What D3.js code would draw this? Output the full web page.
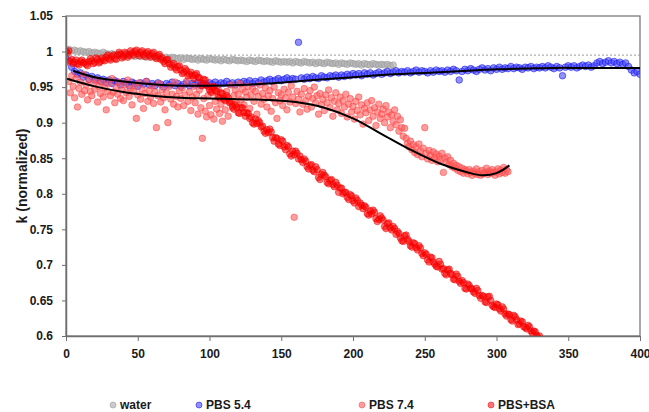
<!DOCTYPE html>
<html>
<head>
<meta charset="utf-8">
<script src="https://cdn.jsdelivr.net/npm/d3@7"></script>
<style>
  body { margin: 0; background: #fff; }
  text { font-family: "Liberation Sans", Arial, sans-serif; }
</style>
</head>
<body>
<svg id="chart"></svg>
<script>
// sampled series: time starts at 0, step given per series
const waterStep = 2;
const water = [
  1.002, 1.003, 1.001, 1.002, 1.000, 1.001,
  1.000, 0.999, 1.000, 0.998, 0.999,
  0.998, 0.997, 0.999, 0.997, 0.996,
  0.997, 0.996, 0.995, 0.997, 0.995,
  0.994, 0.996, 0.994, 0.993, 0.995,
  0.993, 0.994, 0.992, 0.993, 0.994,
  0.992, 0.991, 0.993, 0.991, 0.992,
  0.990, 0.992, 0.991, 0.990, 0.991,
  0.989, 0.991, 0.990, 0.989, 0.990,
  0.988, 0.990, 0.989, 0.988, 0.990,
  0.989, 0.988, 0.989, 0.987, 0.989,
  0.988, 0.987, 0.989, 0.988, 0.987,
  0.988, 0.987, 0.986, 0.988, 0.987,
  0.986, 0.988, 0.987, 0.986, 0.987,
  0.986, 0.985, 0.987, 0.986, 0.985,
  0.986, 0.985, 0.986, 0.984, 0.986,
  0.985, 0.984, 0.986, 0.985, 0.984,
  0.985, 0.983, 0.985, 0.984, 0.983,
  0.985, 0.984, 0.983, 0.984, 0.982,
  0.984, 0.983, 0.982, 0.984, 0.983,
  0.982, 0.983, 0.981, 0.983, 0.982,
  0.981, 0.983, 0.982, 0.981, 0.982,
  0.981, 0.982, 0.980, 0.981
];

const pbs54Step = 2;
const pbs54 = [
  0.990, 0.986, 0.978, 0.972, 0.968, 0.970,
  0.964, 0.967, 0.961, 0.965, 0.960,
  0.963, 0.958, 0.961, 0.956, 0.960,
  0.955, 0.959, 0.957, 0.953, 0.958,
  0.956, 0.952, 0.957, 0.955, 0.951,
  0.956, 0.954, 0.958, 0.953, 0.955,
  0.952, 0.956, 0.954, 0.950, 0.955,
  0.953, 0.957, 0.952, 0.955, 0.951,
  0.954, 0.956, 0.952, 0.955, 0.953,
  0.957, 0.952, 0.955, 0.953, 0.956,
  0.954, 0.957, 0.953, 0.956, 0.955,
  0.958, 0.954, 0.956, 0.953, 0.957,
  0.955, 0.958, 0.956, 0.959, 0.955,
  0.958, 0.956, 0.960, 0.957, 0.959,
  0.961, 0.958, 0.960, 0.962, 0.959,
  0.961, 0.963, 0.960, 0.962, 0.961,
  1.013, 0.963, 0.961, 0.964, 0.962,
  0.965, 0.963, 0.962, 0.966, 0.964,
  0.963, 0.966, 0.965, 0.967, 0.964,
  0.967, 0.965, 0.968, 0.966, 0.969,
  0.967, 0.969, 0.966, 0.970, 0.968,
  0.970, 0.967, 0.969, 0.971, 0.968,
  0.970, 0.972, 0.969, 0.971, 0.973,
  0.970, 0.972, 0.971, 0.973, 0.970,
  0.972, 0.974, 0.971, 0.973, 0.972,
  0.970, 0.973, 0.971, 0.974, 0.972,
  0.973, 0.971, 0.974, 0.972, 0.975,
  0.973, 0.960, 0.972, 0.975, 0.973,
  0.976, 0.974, 0.972, 0.975, 0.977,
  0.974, 0.976, 0.973, 0.977, 0.975,
  0.978, 0.975, 0.977, 0.976, 0.979,
  0.976, 0.978, 0.977, 0.975, 0.978,
  0.977, 0.979, 0.976, 0.978, 0.977,
  0.979, 0.977, 0.980, 0.978, 0.976,
  0.979, 0.977, 0.966, 0.978, 0.980,
  0.978, 0.980, 0.977, 0.979, 0.981,
  0.979, 0.981, 0.978, 0.980, 0.984,
  0.986, 0.983, 0.985, 0.987, 0.984,
  0.986, 0.983, 0.985, 0.982, 0.984,
  0.979, 0.974, 0.970, 0.972, 0.968
];

const pbs74Step = 1;
const pbs74 = [
  1.000, 0.985, 0.958, 0.942, 0.966, 0.951, 0.935, 0.962, 0.922, 0.948,
  0.957, 0.940, 0.968, 0.945, 0.953, 0.932, 0.961, 0.944, 0.938, 0.955,
  0.947, 0.960, 0.929, 0.951, 0.941, 0.958, 0.936, 0.949, 0.918, 0.944,
  0.955, 0.938, 0.962, 0.943, 0.928, 0.950, 0.940, 0.957, 0.934, 0.946,
  0.931, 0.953, 0.942, 0.960, 0.937, 0.948, 0.925, 0.944, 0.952, 0.906,
  0.939, 0.956, 0.933, 0.947, 0.920, 0.941, 0.958, 0.930, 0.945, 0.936,
  0.952, 0.927, 0.943, 0.893, 0.938, 0.955, 0.929, 0.946, 0.935, 0.918,
  0.942, 0.900, 0.951, 0.933, 0.940, 0.926, 0.957, 0.937, 0.922, 0.945,
  0.934, 0.949, 0.924, 0.939, 0.958, 0.930, 0.943, 0.917, 0.936, 0.951,
  0.928, 0.940, 0.912, 0.946, 0.921, 0.878, 0.934, 0.916, 0.908, 0.938,
  0.924, 0.911, 0.942, 0.905, 0.930, 0.919, 0.948, 0.913, 0.926, 0.902,
  0.935, 0.918, 0.944, 0.909, 0.929, 0.953, 0.921, 0.938, 0.946, 0.927,
  0.940, 0.955, 0.932, 0.947, 0.925, 0.943, 0.936, 0.951, 0.920, 0.939,
  0.948, 0.930, 0.944, 0.912, 0.937, 0.953, 0.926, 0.941, 0.933, 0.949,
  0.922, 0.938, 0.945, 0.916, 0.934, 0.950, 0.928, 0.906, 0.942, 0.931,
  0.939, 0.924, 0.947, 0.935, 0.918, 0.943, 0.929, 0.952, 0.936, 0.767,
  0.927, 0.944, 0.933, 0.915, 0.940, 0.926, 0.948, 0.931, 0.919, 0.937,
  0.945, 0.922, 0.934, 0.950, 0.928, 0.938, 0.912, 0.941, 0.925, 0.933,
  0.917, 0.939, 0.928, 0.946, 0.921, 0.935, 0.909, 0.930, 0.942, 0.918,
  0.927, 0.936, 0.913, 0.931, 0.922, 0.940, 0.908, 0.926, 0.934, 0.915,
  0.923, 0.905, 0.930, 0.917, 0.936, 0.911, 0.925, 0.898, 0.920, 0.914,
  0.928, 0.903, 0.918, 0.931, 0.909, 0.921, 0.896, 0.915, 0.926, 0.906,
  0.912, 0.919, 0.900, 0.924, 0.908, 0.915, 0.893, 0.911, 0.902, 0.918,
  0.897, 0.909, 0.888, 0.904, 0.893, 0.881, 0.892, 0.878, 0.871, 0.866,
  0.874, 0.862, 0.869, 0.858, 0.866, 0.855, 0.870, 0.860, 0.852, 0.864,
  0.893, 0.857, 0.849, 0.861, 0.854, 0.847, 0.859, 0.851, 0.856, 0.845,
  0.853, 0.848, 0.857, 0.830, 0.850, 0.844, 0.852, 0.841, 0.847, 0.838,
  0.843, 0.836, 0.840, 0.833, 0.838, 0.831, 0.836, 0.829, 0.834, 0.832,
  0.828, 0.834, 0.830, 0.826, 0.832, 0.829, 0.835, 0.827, 0.831, 0.826,
  0.833, 0.828, 0.830, 0.836, 0.827, 0.832, 0.829, 0.834, 0.830, 0.826,
  0.831, 0.835, 0.828, 0.833, 0.830, 0.837, 0.829, 0.834, 0.831
];

const bsaStep = 1;
const bsa = [
  1.000, 0.998, 1.001, 0.987, 0.989, 0.983, 0.985, 0.988, 0.983, 0.981,
  0.986, 0.988, 0.984, 0.985, 0.982, 0.980, 0.986, 0.990, 0.987, 0.983,
  0.985, 0.991, 0.989, 0.984, 0.986, 0.991, 0.988, 0.987, 0.992, 0.995,
  0.990, 0.988, 0.993, 0.995, 0.990, 0.989, 0.995, 0.999, 0.996, 0.991,
  0.993, 0.999, 0.997, 0.992, 0.995, 1.001, 0.998, 0.995, 1.000, 1.002,
  0.997, 0.994, 0.999, 1.001, 0.996, 0.993, 0.998, 1.000, 0.995, 0.992,
  0.997, 0.999, 0.993, 0.990, 0.994, 0.996, 0.989, 0.991, 0.986, 0.983,
  0.988, 0.989, 0.983, 0.978, 0.981, 0.983, 0.977, 0.974, 0.979, 0.980,
  0.974, 0.969, 0.971, 0.976, 0.973, 0.966, 0.968, 0.971, 0.966, 0.962,
  0.967, 0.969, 0.964, 0.963, 0.956, 0.952, 0.961, 0.960, 0.953, 0.951,
  0.946, 0.943, 0.950, 0.951, 0.945, 0.944, 0.936, 0.935, 0.942, 0.941,
  0.933, 0.931, 0.938, 0.935, 0.928, 0.930, 0.923, 0.919, 0.925, 0.922,
  0.914, 0.913, 0.921, 0.921, 0.914, 0.909, 0.914, 0.913, 0.906, 0.908,
  0.900, 0.898, 0.905, 0.899, 0.903, 0.900, 0.894, 0.895, 0.888, 0.885,
  0.890, 0.886, 0.891, 0.887, 0.879, 0.874, 0.879, 0.878, 0.870, 0.868,
  0.876, 0.874, 0.866, 0.862, 0.868, 0.866, 0.856, 0.853, 0.860, 0.855,
  0.860, 0.857, 0.849, 0.853, 0.848, 0.844, 0.849, 0.846, 0.838, 0.835,
  0.840, 0.841, 0.833, 0.831, 0.838, 0.834, 0.823, 0.820, 0.827, 0.830,
  0.826, 0.824, 0.816, 0.814, 0.819, 0.820, 0.813, 0.810, 0.816, 0.812,
  0.802, 0.808, 0.808, 0.800, 0.802, 0.802, 0.795, 0.792, 0.799, 0.797,
  0.790, 0.787, 0.794, 0.791, 0.782, 0.787, 0.784, 0.779, 0.783, 0.781,
  0.772, 0.770, 0.776, 0.772, 0.777, 0.774, 0.765, 0.761, 0.764, 0.769,
  0.766, 0.763, 0.754, 0.751, 0.758, 0.759, 0.752, 0.749, 0.754, 0.751,
  0.743, 0.747, 0.744, 0.738, 0.734, 0.733, 0.741, 0.742, 0.736, 0.733,
  0.727, 0.725, 0.731, 0.730, 0.724, 0.721, 0.727, 0.724, 0.716, 0.713,
  0.717, 0.715, 0.707, 0.704, 0.711, 0.710, 0.704, 0.701, 0.698, 0.697,
  0.705, 0.701, 0.694, 0.695, 0.688, 0.686, 0.693, 0.694, 0.688, 0.686,
  0.680, 0.679, 0.687, 0.684, 0.677, 0.674, 0.678, 0.675, 0.667, 0.666,
  0.673, 0.671, 0.667, 0.666, 0.662, 0.660, 0.667, 0.664, 0.657, 0.653,
  0.657, 0.656, 0.648, 0.647, 0.655, 0.656, 0.650, 0.643, 0.641, 0.640,
  0.645, 0.644, 0.638, 0.635, 0.641, 0.638, 0.631, 0.628, 0.631, 0.630,
  0.623, 0.621, 0.629, 0.627, 0.623, 0.616, 0.617, 0.621, 0.620, 0.613,
  0.612, 0.610, 0.615, 0.613, 0.607, 0.604, 0.607, 0.606, 0.601, 0.598, 0.600
];

// trend lines (black)
const fit54T = [5, 20, 40, 60, 80, 100, 120, 140, 160, 180, 200, 220, 240, 260, 280, 300, 320, 340, 360, 380, 400];
const fit54K = [0.973, 0.964, 0.958, 0.954, 0.952, 0.952, 0.953, 0.955, 0.958, 0.961, 0.964, 0.967, 0.969, 0.971, 0.973, 0.975, 0.976, 0.977, 0.977, 0.977, 0.977];
const fit74T = [0, 20, 40, 60, 80, 100, 120, 140, 160, 180, 200, 220, 240, 260, 280, 290, 300, 309];
const fit74K = [0.962, 0.951, 0.943, 0.938, 0.935, 0.934, 0.933, 0.932, 0.929, 0.921, 0.906, 0.884, 0.862, 0.843, 0.830, 0.826, 0.829, 0.840];

const refLevel = 0.995;

const xTicks = [0, 50, 100, 150, 200, 250, 300, 350, 400];
const yTicks = [0.6, 0.65, 0.7, 0.75, 0.8, 0.85, 0.9, 0.95, 1, 1.05];
const yTickLabels = ["0.6", "0.65", "0.7", "0.75", "0.8", "0.85", "0.9", "0.95", "1", "1.05"];

const seriesNames = ["water", "PBS 5.4", "PBS 7.4", "PBS+BSA"];

const W = 649, H = 412;
const margin = { top: 16, right: 9, bottom: 76, left: 66 };
const width = W - margin.left - margin.right;
const height = H - margin.top - margin.bottom;

const svg = d3.select("#chart").attr("width", W).attr("height", H);
const g = svg.append("g").attr("transform", "translate(" + margin.left + "," + margin.top + ")");

const x = d3.scaleLinear().domain([0, 400]).range([0, width]);
const y = d3.scaleLinear().domain([0.6, 1.05]).range([height, 0]);

g.append("clipPath").attr("id", "plotclip")
  .append("rect").attr("x", 0).attr("y", 0).attr("width", width).attr("height", height);

// frame
g.append("rect")
  .attr("width", width).attr("height", height)
  .attr("fill", "none").attr("stroke", "#7a7a7a").attr("stroke-width", 1.3);

// reference dotted line
g.append("line")
  .attr("x1", x(0)).attr("x2", x(400))
  .attr("y1", y(refLevel)).attr("y2", y(refLevel))
  .attr("stroke", "#999").attr("stroke-width", 1).attr("stroke-dasharray", "2,2");

const styles = [
  { fill: "rgba(175,175,175,0.65)", stroke: "rgba(150,150,150,0.7)" },
  { fill: "rgba(70,70,255,0.6)", stroke: "rgba(20,20,240,0.7)" },
  { fill: "rgba(255,95,95,0.62)", stroke: "rgba(255,60,60,0.6)" },
  { fill: "rgba(255,0,0,0.55)", stroke: "rgba(235,0,0,0.6)" }
];

const sets = [
  { vals: water, step: waterStep },
  { vals: pbs54, step: pbs54Step },
  { vals: pbs74, step: pbs74Step },
  { vals: bsa, step: bsaStep }
];

const pts = g.append("g").attr("clip-path", "url(#plotclip)");
sets.forEach((s, si) => {
  pts.append("g").selectAll("circle")
    .data(s.vals)
    .enter().append("circle")
    .attr("cx", (d, i) => x(i * s.step))
    .attr("cy", d => y(d))
    .attr("r", 3.3)
    .attr("fill", styles[si].fill)
    .attr("stroke", styles[si].stroke)
    .attr("stroke-width", 0.8);
});

const line = d3.line()
  .x(d => x(d[0])).y(d => y(d[1]))
  .curve(d3.curveCatmullRom.alpha(0.5));

g.append("path")
  .datum(fit54T.map((t, i) => [t, fit54K[i]]))
  .attr("d", line).attr("fill", "none")
  .attr("stroke", "#000").attr("stroke-width", 2);

g.append("path")
  .datum(fit74T.map((t, i) => [t, fit74K[i]]))
  .attr("d", line).attr("fill", "none")
  .attr("stroke", "#000").attr("stroke-width", 2);

// axes
const xAxis = g.append("g")
  .attr("transform", "translate(0," + height + ")")
  .call(d3.axisBottom(x).tickValues(xTicks).tickSize(5).tickSizeOuter(0).tickPadding(8));
const yAxis = g.append("g")
  .call(d3.axisLeft(y).tickValues(yTicks).tickFormat((d, i) => yTickLabels[i])
    .tickSize(4).tickSizeOuter(0).tickPadding(9));

[xAxis, yAxis].forEach(a => {
  a.select(".domain").attr("stroke", "#6f6f6f").attr("stroke-width", 1.5);
  a.selectAll(".tick line").attr("stroke", "#6f6f6f").attr("stroke-width", 1);
  a.selectAll(".tick text")
    .attr("fill", "#1a1a1a")
    .style("font-family", "'Liberation Sans', Arial, sans-serif")
    .style("font-size", "12px")
    .style("font-weight", "bold");
});

// y title
svg.append("text")
  .attr("transform", "translate(22," + (margin.top + height / 2) + ") rotate(-90)")
  .attr("text-anchor", "middle")
  .attr("dy", "0.35em")
  .style("font-size", "14px")
  .style("font-weight", "bold")
  .attr("fill", "#1a1a1a")
  .text("k (normalized)");

// legend
const legendX = [113, 199, 362, 491];
const legend = svg.append("g").attr("transform", "translate(0,405)");
seriesNames.forEach((name, i) => {
  legend.append("circle")
    .attr("cx", legendX[i]).attr("cy", 0).attr("r", 3)
    .attr("fill", styles[i].fill).attr("stroke", styles[i].stroke).attr("stroke-width", 0.8);
  legend.append("text")
    .attr("x", legendX[i] + 7).attr("y", 0).attr("dy", "0.35em")
    .style("font-size", "12px").style("font-weight", "bold")
    .attr("fill", "#1a1a1a")
    .text(name);
});
</script>
</body>
</html>
